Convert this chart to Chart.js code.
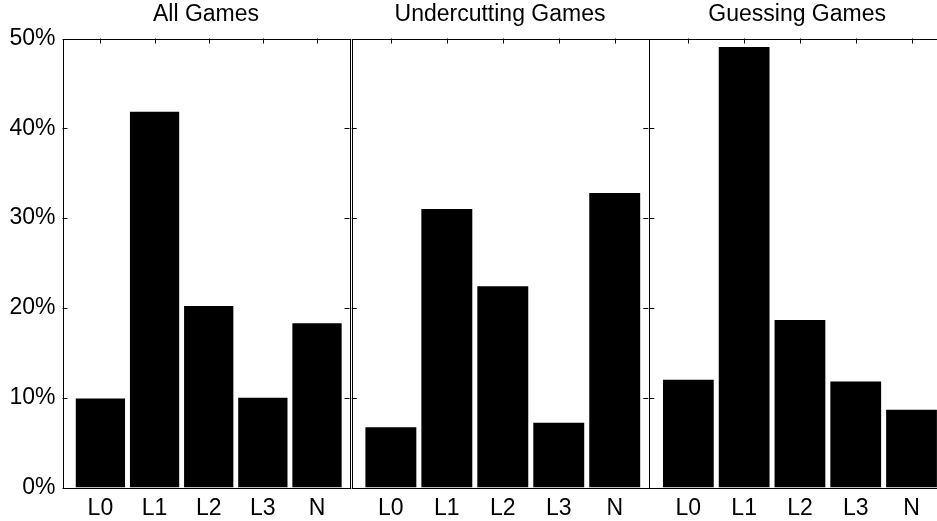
<!DOCTYPE html>
<html>
<head>
<meta charset="utf-8">
<script src="https://cdn.jsdelivr.net/npm/chart.js@4/dist/chart.umd.min.js"></script>
<style>
 body { margin: 0; background: #fff; overflow: hidden; width: 937px; height: 521px; }
 canvas { position: absolute; left: 0; top: 0; }
</style>
</head>
<body>
<canvas id="panel0" width="960" height="521"></canvas>
<canvas id="panel1" width="960" height="521"></canvas>
<canvas id="panel2" width="960" height="521"></canvas>
<script>
// categories and values (percent of subjects)
const categories = ["L0", "L1", "L2", "L3", "N"];
const titles = ["All Games", "Undercutting Games", "Guessing Games"];
const allGames = [9.9, 41.85, 20.2, 10.0, 18.3];
const undercuttingGames = [6.7, 31.0, 22.4, 7.2, 32.8];
const guessingGames = [12.0, 49.05, 18.65, 11.8, 8.66];
const yTicks = [0, 10, 20, 30, 40, 50];

const series = [allGames, undercuttingGames, guessingGames];

// plot area edges of each panel (px)
const areas = [
 { left: 62.5, right: 349.5 },
 { left: 351.7, right: 648.3 },
 { left: 649.3, right: 945 }
];
const canvasW = 960;
const areaTop = 38.5;
const xAxisH = 33.5;

Chart.defaults.font.family = "'Liberation Sans', Arial, sans-serif";
Chart.defaults.font.size = 23;
Chart.defaults.color = "#000";

// box, inward ticks and panel title
const framePlugin = {
 id: 'frame',
 afterDraw(chart, args, opts) {
  const c = chart.ctx;
  const a = chart.chartArea;
  const xs = chart.scales.x, ys = chart.scales.y;
  c.save();
  c.strokeStyle = '#000';
  c.lineWidth = 1;
  c.strokeRect(Math.round(a.left) + 0.5, Math.round(a.top) + 0.5,
   Math.round(a.right - a.left), Math.round(a.bottom - a.top));
  c.beginPath();
  yTicks.forEach(v => {
   const y = Math.round(ys.getPixelForValue(v)) + 0.5;
   c.moveTo(a.left, y); c.lineTo(a.left + 5, y);
   c.moveTo(a.right, y); c.lineTo(a.right - 5, y);
  });
  categories.forEach((cat, i) => {
   const x = Math.round(xs.getPixelForValue(i + 1)) + 0.5;
   c.moveTo(x, a.top); c.lineTo(x, a.top + 5);
  });
  c.stroke();
  c.fillStyle = '#000';
  c.font = "23px 'Liberation Sans', Arial, sans-serif";
  c.textAlign = 'center';
  c.textBaseline = 'middle';
  c.fillText(opts.text, (a.left + a.right) / 2, 15);
  c.restore();
 }
};

series.forEach((values, p) => {
 const first = p === 0;
 const ctx = document.getElementById('panel' + p).getContext('2d');
 new Chart(ctx, {
  type: 'bar',
  data: {
   datasets: [{
    data: values.map((v, i) => ({ x: i + 1, y: v })),
    backgroundColor: '#000',
    borderWidth: 0,
    barPercentage: 0.91,
    categoryPercentage: 1
   }]
  },
  options: {
   responsive: false,
   animation: false,
   events: [],
   layout: {
    padding: {
     left: first ? 0 : areas[p].left,
     right: canvasW - areas[p].right,
     top: areaTop,
     bottom: 0
    }
   },
   plugins: {
    legend: { display: false },
    tooltip: { enabled: false },
    frame: { text: titles[p] }
   },
   scales: {
    x: {
     type: 'linear',
     offset: false,
     min: 0.3,
     max: 5.6,
     grid: { display: false, drawTicks: false, offset: false },
     border: { display: false },
     afterBuildTicks: s => { s.ticks = categories.map((c, i) => ({ value: i + 1 })); },
     afterFit: s => { s.height = xAxisH; },
     ticks: {
      padding: 7,
      maxRotation: 0,
      autoSkip: false,
      callback: v => categories[v - 1]
     }
    },
    y: {
     min: 0,
     max: 50,
     grid: { display: false, drawTicks: false },
     border: { display: false },
     afterBuildTicks: s => { s.ticks = yTicks.map(v => ({ value: v })); },
     afterFit: s => { s.width = first ? areas[0].left : 0; },
     ticks: {
      display: first,
      padding: 7,
      callback: v => v + '%'
     }
    }
   }
  },
  plugins: [framePlugin]
 });
});
</script>
</body>
</html>
